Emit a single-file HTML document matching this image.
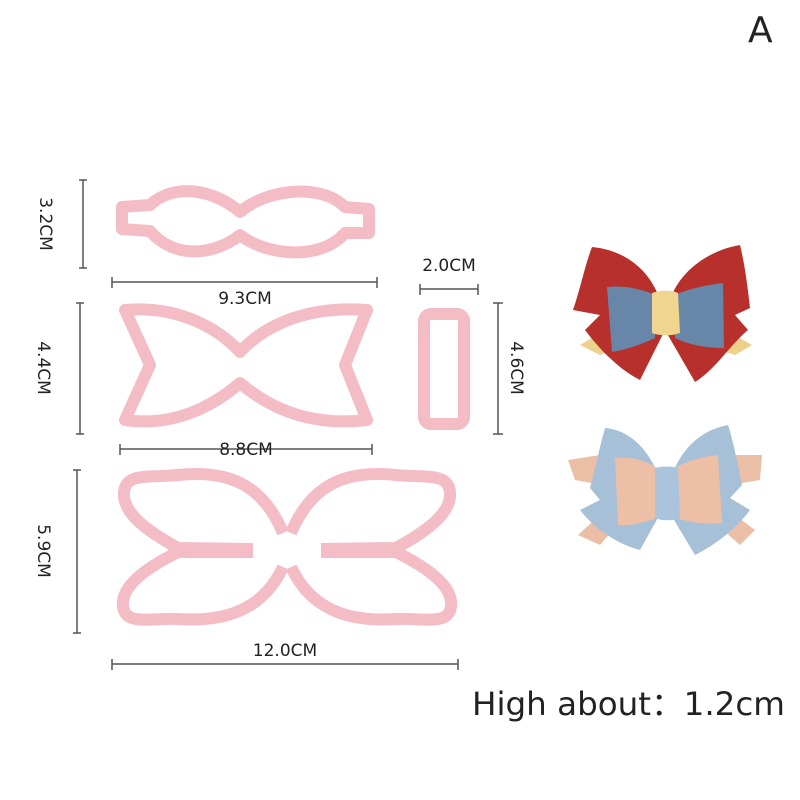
<!DOCTYPE html>
<html><head><meta charset="utf-8"><style>
html,body{margin:0;padding:0;background:#fff;width:800px;height:800px;overflow:hidden}
svg{display:block}
text{font-family:"DejaVu Sans","Liberation Sans",sans-serif;fill:#222}
</style></head><body>
<svg width="800" height="800" viewBox="0 0 800 800" xmlns="http://www.w3.org/2000/svg">
<rect width="800" height="800" fill="#fff"/>
<text x="748" y="42" font-size="36" font-family="Liberation Sans">A</text>

<g fill="none" stroke="#f4bdc6" stroke-width="12" stroke-linejoin="round" stroke-linecap="butt">
<path d="M240,212 C215,190 175,182 150,205 L122,207 L122,229 L150,231 C175,260 215,255 240,235 C265,255 320,262 345,233 L369,233 L369,209 L345,207 C320,182 265,190 240,212Z"/>
<path d="M240,352 C220,330 180,305 125,310 L150,365 L125,420 C180,428 220,400 240,383 C260,400 300,428 367,420 L345,365 L367,310 C300,305 260,330 240,352 Z"/>
<rect x="424" y="314" width="40" height="110" rx="7"/>
<g>
<path d="M253,549 L178,548 C145,530 122,512 124,492 C126,472 150,478 178,475 C225,470 262,482 283,533"/>
<path d="M283,567 C262,612 222,622 178,619 C150,618 125,626 123,606 C121,588 142,570 178,552 L253,552"/>
</g>
<g transform="translate(574,0) scale(-1,1)">
<path d="M253,549 L178,548 C145,530 122,512 124,492 C126,472 150,478 178,475 C225,470 262,482 283,533"/>
<path d="M283,567 C262,612 222,622 178,619 C150,618 125,626 123,606 C121,588 142,570 178,552 L253,552"/>
</g>
</g>

<g stroke="#555" stroke-width="1.5" fill="none">
<path d="M83,180 V268 M79,180 H87 M79,268 H87"/>
<path d="M80,303 V434 M76,303 H84 M76,434 H84"/>
<path d="M77,470 V633 M73,470 H81 M73,633 H81"/>
<path d="M112,282 H377 M112,277 V288 M377,277 V288"/>
<path d="M120,449 H372 M120,444 V455 M372,444 V455"/>
<path d="M112,664 H458 M112,659 V670 M458,659 V670"/>
<path d="M420,289 H478 M420,284 V295 M478,284 V295"/>
<path d="M498,303 V434 M493,303 H503 M493,434 H503"/>
</g>
<g font-size="17">
<text x="245" y="304" text-anchor="middle">9.3CM</text>
<text x="246" y="455" text-anchor="middle">8.8CM</text>
<text x="285" y="656" text-anchor="middle">12.0CM</text>
<text x="449" y="271" text-anchor="middle">2.0CM</text>
<text transform="translate(40,224) rotate(90)" text-anchor="middle">3.2CM</text>
<text transform="translate(38,368) rotate(90)" text-anchor="middle">4.4CM</text>
<text transform="translate(38,551) rotate(90)" text-anchor="middle">5.9CM</text>
<text transform="translate(511,368) rotate(90)" text-anchor="middle">4.6CM</text>
</g>

<g>
<path d="M585,270 L600,268 L640,300 L590,305Z M580,345 L605,330 L640,340 L600,355Z" fill="#ecd08b"/>
<path d="M745,270 L730,268 L690,300 L740,305Z M752,345 L725,330 L690,340 L735,355Z" fill="#ecd08b"/>
<path d="M592,247 C625,250 650,270 660,300 L665,330 L640,380 C620,370 600,350 585,330 L600,315 L573,310 C580,290 585,265 592,247Z" fill="#b8302c"/>
<path d="M740,245 C710,250 680,270 670,300 L665,330 L695,382 C715,370 730,345 748,330 L735,315 L750,308 C748,290 745,265 740,245Z" fill="#b8302c"/>
<path d="M607,287 C625,285 645,290 655,295 L655,338 C640,345 625,350 612,352 Z" fill="#6886a8"/>
<path d="M723,283 C705,285 685,290 675,295 L675,338 C690,345 705,348 724,348 Z" fill="#6886a8"/>
<path d="M652,293 C660,290 672,290 678,293 L680,333 C672,336 660,336 652,333Z" fill="#f0d58e"/>
</g>
<g>
<path d="M568,460 L600,455 L630,490 L575,480Z M578,535 L600,515 L630,510 L600,545Z" fill="#ebbfa5"/>
<path d="M762,455 L735,455 L700,490 L760,480Z M755,530 L735,515 L700,510 L740,545Z" fill="#ebbfa5"/>
<path d="M605,428 C630,430 650,450 660,480 L665,505 L640,550 C620,545 595,530 580,510 L600,500 L590,488 C595,470 600,445 605,428Z" fill="#a6c0d8"/>
<path d="M728,425 C700,430 680,450 670,480 L665,505 L695,555 C715,545 735,530 750,510 L730,498 L742,485 C738,465 733,440 728,425Z" fill="#a6c0d8"/>
<path d="M615,458 C635,456 648,462 657,468 L657,518 C645,522 632,526 618,525 Z" fill="#ecbfa6"/>
<path d="M718,455 C700,457 685,462 675,468 L675,518 C690,522 705,525 722,523 Z" fill="#ecbfa6"/>
<path d="M655,468 C662,466 672,466 678,468 L680,518 C672,521 662,521 655,518Z" fill="#a9c4dc"/>
</g>

<text x="472" y="715" font-size="32" fill="#111" font-family="Liberation Sans" textLength="313" lengthAdjust="spacingAndGlyphs">High about：1.2cm</text>
</svg>
</body></html>
